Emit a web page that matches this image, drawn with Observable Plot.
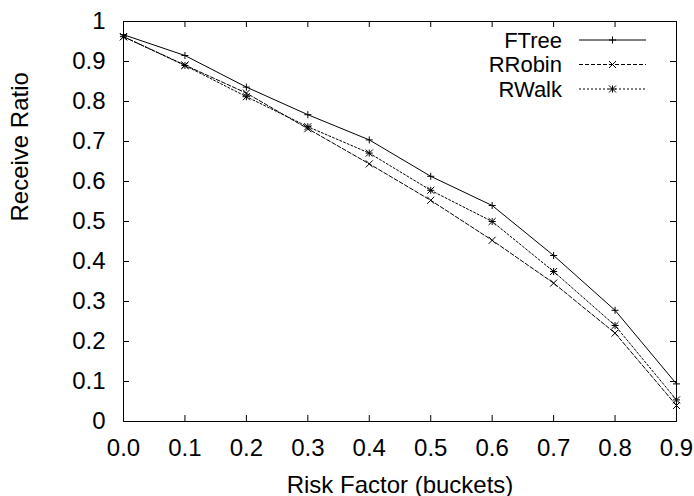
<!DOCTYPE html>
<html>
<head>
<meta charset="utf-8">
<script src="https://cdn.jsdelivr.net/npm/d3@7"></script>
<script src="https://cdn.jsdelivr.net/npm/@observablehq/plot@0.6"></script>
<style>
  html, body { margin: 0; padding: 0; background: #fff; }
  #chart svg { display: block; }
</style>
</head>
<body>
<div id="chart"></div>
<script>
// ---- data ----
const riskFactor = [0.0, 0.1, 0.2, 0.3, 0.4, 0.5, 0.6, 0.7, 0.8, 0.9];
const ftree  = [0.967, 0.915, 0.836, 0.767, 0.704, 0.613, 0.540, 0.415, 0.278, 0.094];
const rrobin = [0.962, 0.891, 0.821, 0.732, 0.644, 0.553, 0.453, 0.346, 0.221, 0.040];
const rwalk  = [0.962, 0.890, 0.812, 0.737, 0.671, 0.578, 0.500, 0.375, 0.240, 0.054];
const seriesNames = ["FTree", "RRobin", "RWalk"];
const xTicks = [0.0, 0.1, 0.2, 0.3, 0.4, 0.5, 0.6, 0.7, 0.8, 0.9];
const xTickLabels = ["0.0", "0.1", "0.2", "0.3", "0.4", "0.5", "0.6", "0.7", "0.8", "0.9"];
const yTicks = [0, 0.1, 0.2, 0.3, 0.4, 0.5, 0.6, 0.7, 0.8, 0.9, 1];
const yTickLabels = ["0", "0.1", "0.2", "0.3", "0.4", "0.5", "0.6", "0.7", "0.8", "0.9", "1"];
const xLabel = "Risk Factor (buckets)";
const yLabel = "Receive Ratio";

// ---- build table ----
const seriesValues = [ftree, rrobin, rwalk];
const rows = seriesNames.flatMap((name, s) =>
  riskFactor.map((x, i) => ({ series: name, x, y: seriesValues[s][i] })));
const bySeries = name => rows.filter(d => d.series === name);

// ---- styles ----
const FONT = "'Liberation Sans', Arial, Helvetica, sans-serif";
const FS = 24;
const LFS = 22;
const W = 694, H = 496;
const mL = 123, mR = 18, mT = 21, mB = 75;
const tickPx = 6;
const dash = { FTree: null, RRobin: "4,2", RWalk: "2,2" };
const xSpan = 0.9, ySpan = 1;
const tickX = tickPx / (W - mL - mR) * xSpan;
const tickY = tickPx / (H - mT - mB) * ySpan;

const marks = [
  Plot.frame({ stroke: "#000", strokeWidth: 1 }),
  // inward ticks on all four sides
  Plot.ruleX(xTicks, { x: d => d, y1: 0, y2: tickY, stroke: "#000" }),
  Plot.ruleX(xTicks, { x: d => d, y1: 1, y2: 1 - tickY, stroke: "#000" }),
  Plot.ruleY(yTicks, { y: d => d, x1: 0, x2: tickX, stroke: "#000" }),
  Plot.ruleY(yTicks, { y: d => d, x1: 0.9, x2: 0.9 - tickX, stroke: "#000" }),
  Plot.axisX({ ticks: xTicks, tickSize: 0, tickPadding: 17, fontSize: FS,
    tickFormat: d => xTickLabels[xTicks.findIndex(t => Math.abs(t - d) < 1e-9)], label: null }),
  Plot.axisY({ ticks: yTicks, tickSize: 0, tickPadding: 18, fontSize: FS,
    tickFormat: d => yTickLabels[yTicks.findIndex(t => Math.abs(t - d) < 1e-9)], label: null }),
  Plot.text([xLabel], { text: d => d, frameAnchor: "bottom", dy: 71, fontSize: FS }),
  Plot.text([yLabel], { text: d => d, frameAnchor: "left", dx: -103, rotate: -90, fontSize: FS }),
];

for (const name of seriesNames) {
  marks.push(Plot.line(bySeries(name), {
    x: "x", y: "y", stroke: "#000", strokeWidth: 1,
    strokeDasharray: dash[name] || undefined
  }));
}
marks.push(Plot.dot(bySeries("FTree"), { x: "x", y: "y", symbol: "plus", r: 2.4, stroke: "#000", strokeWidth: 1 }));
marks.push(Plot.dot(bySeries("RRobin"), { x: "x", y: "y", symbol: "times", r: 3.3, stroke: "#000", strokeWidth: 1 }));
marks.push(Plot.dot(bySeries("RWalk"), { x: "x", y: "y", symbol: "plus", r: 2.4, stroke: "#000", strokeWidth: 1 }));
marks.push(Plot.dot(bySeries("RWalk"), { x: "x", y: "y", symbol: "times", r: 3.3, stroke: "#000", strokeWidth: 1 }));

const chart = Plot.plot({
  width: W, height: H,
  marginLeft: mL, marginRight: mR, marginTop: mT, marginBottom: mB,
  style: { fontFamily: FONT, fontSize: FS + "px", background: "#fff", color: "#000", overflow: "visible" },
  x: { domain: [0, 0.9] },
  y: { domain: [0, 1] },
  marks
});
document.getElementById("chart").appendChild(chart);

// ---- legend (inside, top-right) ----
const svg = d3.select(chart.tagName.toLowerCase() === "svg" ? chart : chart.querySelector("svg"));
const legend = svg.append("g").attr("font-family", FONT).attr("font-size", LFS);
const textRight = 562, lineX1 = 579, lineX2 = 646, rowY0 = 40, rowStep = 24.5;
const plusPath = d3.symbol(d3.symbolPlus, Math.PI * 2.4 * 2.4)();
const timesPath = d3.symbol(d3.symbolTimes, Math.PI * 3.3 * 3.3)();
seriesNames.forEach((name, i) => {
  const y = rowY0 + i * rowStep;
  legend.append("text").attr("x", textRight).attr("y", y).attr("dy", "0.36em")
    .attr("text-anchor", "end").attr("fill", "#000").text(name);
  legend.append("line").attr("x1", lineX1).attr("x2", lineX2).attr("y1", y).attr("y2", y)
    .attr("stroke", "#000").attr("stroke-width", 1)
    .attr("stroke-dasharray", dash[name] || null);
  const cx = (lineX1 + lineX2) / 2;
  const syms = name === "FTree" ? [plusPath] : name === "RRobin" ? [timesPath] : [plusPath, timesPath];
  syms.forEach(p => legend.append("path").attr("d", p)
    .attr("transform", `translate(${cx},${y})`).attr("fill", "none").attr("stroke", "#000"));
});
</script>
</body>
</html>
